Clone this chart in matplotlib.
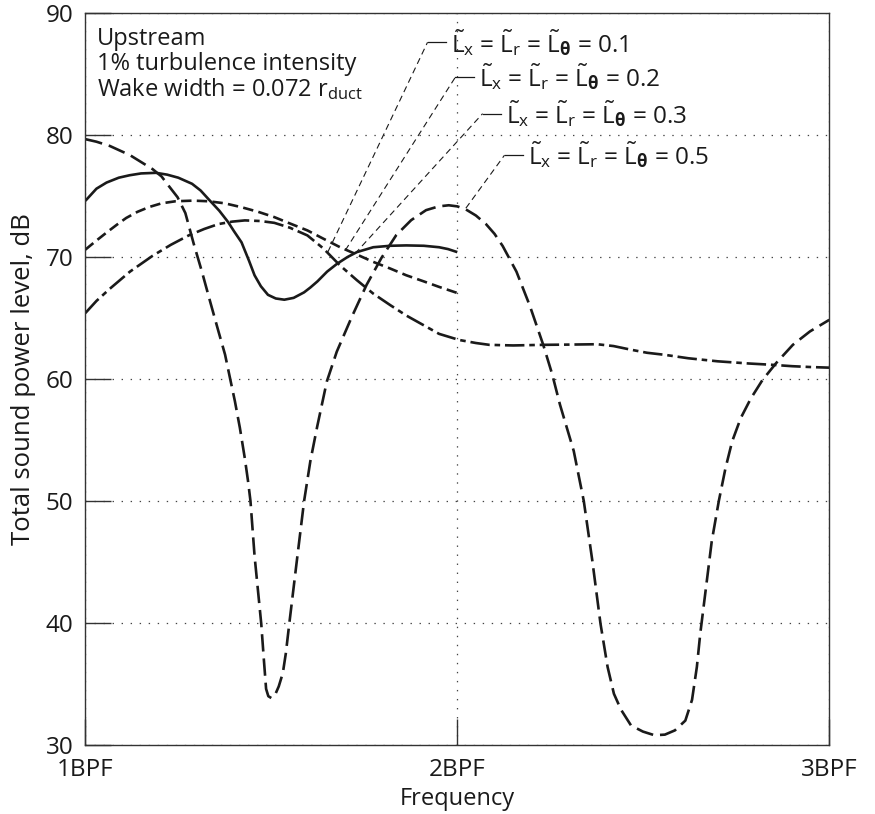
import matplotlib
matplotlib.use("Agg")
import matplotlib.pyplot as plt

FONT = 'Open Sans'
plt.rcParams['font.family'] = [FONT, 'DejaVu Sans']
plt.rcParams['font.weight'] = 500
plt.rcParams['mathtext.fontset'] = 'custom'
plt.rcParams['mathtext.rm'] = FONT + ':medium'
plt.rcParams['mathtext.it'] = FONT + ':italic'
plt.rcParams['mathtext.bf'] = FONT + ':bold'
plt.rcParams['lines.scale_dashes'] = False

# ---- data ----
x_ticks = [1, 2, 3]
x_tick_labels = ['1BPF', '2BPF', '3BPF']
y_ticks = [30, 40, 50, 60, 70, 80, 90]

series_labels = ['0.1', '0.2', '0.3', '0.5']

# L = 0.1 (solid)
x_01 = [1.0, 1.015, 1.03, 1.057, 1.09, 1.119, 1.15, 1.19, 1.22, 1.25, 1.287, 1.31,
        1.331, 1.36, 1.384, 1.40, 1.42, 1.44, 1.455, 1.472, 1.491, 1.512, 1.535, 1.56,
        1.588, 1.605, 1.624, 1.65, 1.677, 1.705, 1.730, 1.774, 1.82, 1.863, 1.91,
        1.951, 1.975, 2.0]
y_01 = [74.6, 75.1, 75.6, 76.1, 76.5, 76.7, 76.85, 76.9, 76.75, 76.5, 76.0, 75.45,
        74.75, 73.8, 72.86, 72.1, 71.2, 69.7, 68.5, 67.6, 66.9, 66.6, 66.5, 66.65,
        67.1, 67.5, 68.0, 68.8, 69.45, 70.0, 70.4, 70.8, 70.92, 70.95, 70.92,
        70.8, 70.65, 70.4]

# L = 0.2 (short dash)
x_02 = [1.0, 1.03, 1.057, 1.085, 1.11, 1.14, 1.172, 1.205, 1.243, 1.29, 1.331, 1.375,
        1.42, 1.465, 1.508, 1.55, 1.597, 1.64, 1.685, 1.73, 1.774, 1.82, 1.863, 1.91,
        1.951, 2.0]
y_02 = [70.6, 71.35, 72.0, 72.65, 73.2, 73.7, 74.1, 74.4, 74.57, 74.62, 74.57, 74.4,
        74.08, 73.7, 73.27, 72.75, 72.18, 71.5, 70.8, 70.2, 69.6, 69.05, 68.5, 68.0,
        67.55, 67.05]

# L = 0.3 (dash-dot)
x_03 = [1.0, 1.03, 1.066, 1.12, 1.181, 1.23, 1.278, 1.32, 1.358, 1.395, 1.429, 1.47,
        1.508, 1.55, 1.597, 1.64, 1.685, 1.73, 1.774, 1.82, 1.863, 1.91, 1.951, 2.005,
        2.05, 2.086, 2.15, 2.231, 2.30, 2.376, 2.42, 2.467, 2.51, 2.558, 2.621, 2.70,
        2.784, 2.848, 2.9, 2.95, 3.0]
y_03 = [65.4, 66.4, 67.4, 68.8, 70.1, 71.0, 71.77, 72.3, 72.7, 72.9, 73.0, 72.95,
        72.8, 72.4, 71.77, 70.7, 69.3, 68.1, 67.0, 66.05, 65.2, 64.4, 63.7, 63.2,
        62.95, 62.8, 62.75, 62.8, 62.82, 62.85, 62.7, 62.4, 62.15, 61.98, 61.7, 61.45,
        61.27, 61.16, 61.05, 60.98, 60.93]

# L = 0.5 (long dash)
x_05 = [1.0, 1.03, 1.066, 1.12, 1.181, 1.205, 1.225, 1.248, 1.269, 1.2914,
        1.3135, 1.336, 1.358, 1.3757, 1.389, 1.402, 1.4155, 1.4288, 1.4376, 1.444,
        1.455, 1.473, 1.480, 1.486, 1.492, 1.50, 1.51, 1.52, 1.531, 1.539,
        1.5484, 1.5677, 1.5882, 1.605, 1.6235, 1.6493, 1.676, 1.7165, 1.756, 1.796,
        1.836, 1.876, 1.916, 1.95, 1.977, 2.0, 2.023, 2.05, 2.077, 2.10,
        2.122, 2.159, 2.195, 2.231, 2.255, 2.276, 2.313, 2.34, 2.363, 2.385,
        2.404, 2.421, 2.44, 2.467, 2.499, 2.53, 2.558, 2.585, 2.613, 2.631,
        2.644, 2.653, 2.684, 2.703, 2.721, 2.739, 2.762, 2.789, 2.820, 2.857,
        2.902, 2.948, 3.0]
y_05 = [79.66, 79.45, 79.1, 78.35, 77.2, 76.6, 75.8, 74.9, 73.6, 71.09,
        68.8, 66.3, 63.9, 62.0, 60.07, 58.2, 56.0, 53.5, 51.6, 50.0,
        45.5, 39.93, 37.0, 34.6, 34.0, 33.85, 34.1, 34.8, 35.9, 37.5,
        39.96, 44.86, 50.0, 53.27, 56.12, 59.8, 62.24, 65.1, 67.71, 69.92,
        71.8, 73.02, 73.84, 74.15, 74.24, 74.15, 73.9, 73.4, 72.7, 71.9,
        70.9, 68.8, 66.0, 62.8, 60.4, 57.9, 54.1, 50.0, 45.1, 39.93,
        36.4, 34.2, 32.9, 31.6, 31.1, 30.8, 30.85, 31.2, 32.0, 33.7,
        36.4, 39.1, 46.7, 50.0, 52.7, 54.9, 56.8, 58.4, 59.9, 61.3,
        62.8, 63.9, 64.85]

# ---- figure ----
W, H = 875, 814
fig = plt.figure(figsize=(W / 100, H / 100), dpi=100)
ax = fig.add_axes([85.3 / W, 1 - 745 / H, 744 / W, 732 / H])

ink = '#1a1a1a'
lw_curve = 1.9
ax.plot(x_01, y_01, color=ink, lw=lw_curve, linestyle='-', solid_capstyle='butt')
ax.plot(x_02, y_02, color=ink, lw=lw_curve, linestyle=(0, (7.5, 3.8)))
ax.plot(x_03, y_03, color=ink, lw=lw_curve, linestyle=(0, (14, 3.5, 4, 3.5)))
ax.plot(x_05, y_05, color=ink, lw=lw_curve, linestyle=(0, (12.5, 5)))

ax.set_xlim(1, 3)
ax.set_ylim(30, 90)
ax.set_xticks(x_ticks)
ax.set_xticklabels(x_tick_labels)
ax.set_yticks(y_ticks)

for s in ax.spines.values():
    s.set_linewidth(1.0)
    s.set_color('#333333')

FS = 17
ax.tick_params(axis='both', direction='in', length=18.5, width=1.0, color='#333333',
               labelsize=17.5, labelcolor=ink)
ax.tick_params(axis='y', pad=8.5)
ax.tick_params(axis='x', pad=9)
ax.grid(True, linestyle=(0, (1, 5.5)), color='#444444', lw=0.9)
ax.set_axisbelow(True)

ax.set_ylabel('Total sound power level, dB', fontsize=18.5, color=ink, labelpad=7)
ax.set_xlabel('Frequency', fontsize=FS, color=ink, labelpad=4)

# top-left notes
notes = ['Upstream', '1% turbulence intensity', r'Wake width = 0.072 r$_{\mathrm{duct}}$']
note_y = [0.956, 0.922, 0.886]
for t, yy in zip(notes, note_y):
    ax.text(0.0153, yy, t, transform=ax.transAxes, fontsize=FS, color=ink,
            va='baseline', ha='left')

# leader annotations
leader_top = [(1.920, 87.6), (1.995, 84.75), (2.068, 81.75), (2.127, 78.35)]
leader_end = [(1.652, 70.41), (1.699, 70.55), (1.725, 70.27), (2.023, 74.0)]
seg = 0.049
for lab, (tx, ty), (ex, ey) in zip(series_labels, leader_top, leader_end):
    ax.plot([ex, tx], [ey, ty], color=ink, lw=0.8, linestyle=(0, (4.5, 3)))
    ax.plot([tx, tx + seg], [ty, ty], color=ink, lw=0.9)
    txt = (r'$\tilde{\mathrm{L}}_{\mathrm{x}}$ = $\tilde{\mathrm{L}}_{\mathrm{r}}$ = '
           r'$\tilde{\mathrm{L}}_{\mathbf{\theta}}$ = ' + lab)
    ax.text(tx + seg + 0.015, ty, txt, fontsize=17.5, color=ink, va='center', ha='left')

fig.savefig('out.png', dpi=100)
